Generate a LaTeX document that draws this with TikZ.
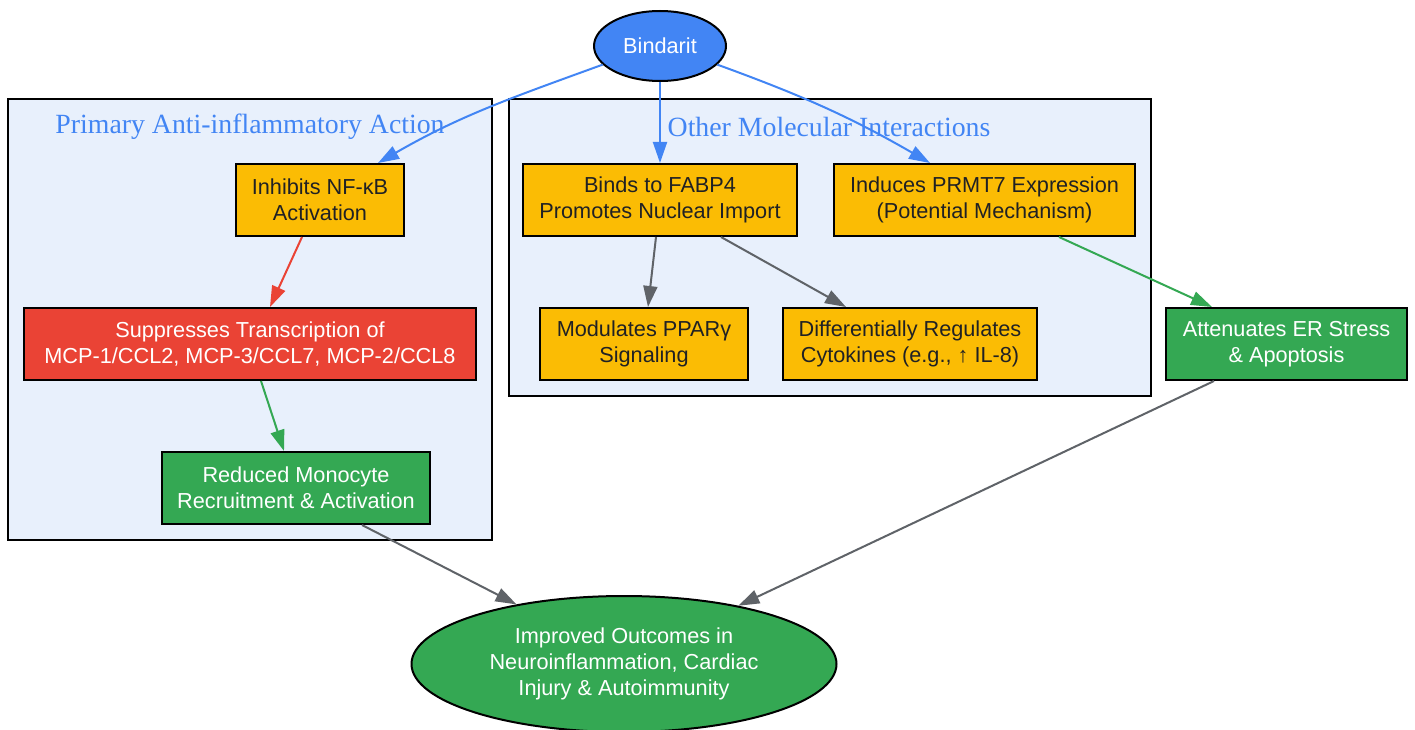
\documentclass[tikz,border=0pt]{standalone}
\usepackage{fontspec}
\setmainfont{Liberation Sans}
\newfontfamily\clusterfont{Liberation Serif}
\usetikzlibrary{arrows.meta,shapes.geometric}
\definecolor{gblue}{HTML}{4285F4}
\definecolor{gred}{HTML}{EA4335}
\definecolor{ggreen}{HTML}{34A853}
\definecolor{gyellow}{HTML}{FBBC04}
\definecolor{ggray}{HTML}{5F6368}
\definecolor{gdark}{HTML}{202124}
\definecolor{clusterbg}{HTML}{E8F0FC}
\begin{document}
\begin{tikzpicture}[x=1pt,y=-1pt,
		box/.style={draw=black,line width=2pt,rectangle,minimum height=72pt,inner sep=0pt,align=center,font=\fontsize{21.7}{26}\selectfont},
		yellowbox/.style={box,fill=gyellow,text=gdark},
		redbox/.style={box,fill=gred,text=white},
		greenbox/.style={box,fill=ggreen,text=white},
		cluster/.style={draw=black,line width=2pt,fill=clusterbg},
		clusterlabel/.style={text=gblue,font=\clusterfont\fontsize{27.8}{32}\selectfont},
		edge/.style={line width=2pt,-{Triangle[length=21pt,width=14pt]}}]
			\useasboundingbox (0,0) rectangle (1415,730);
			% clusters
			\draw[cluster] (8,99) rectangle (492,540);
			\draw[cluster] (509,99) rectangle (1151,396);
			\node[clusterlabel] (primlabel) at (250,127) {Primary Anti-inflammatory Action};
			\node[clusterlabel] (otherlabel) at (829,127) {Other Molecular Interactions};
			% nodes
			\node[ellipse,draw=black,line width=2pt,fill=gblue,text=white,minimum width=132pt,minimum height=70pt,inner sep=0pt,font=\fontsize{21.7}{26}\selectfont] (bind) at (660,46) {Bindarit};
			\node[yellowbox,minimum width=168pt] (nfkb) at (320,200) {Inhibits NF-κB\\Activation};
			\node[redbox,minimum width=452pt] (supp) at (250,344) {Suppresses Transcription of\\MCP-1/CCL2, MCP-3/CCL7, MCP-2/CCL8};
			\node[greenbox,minimum width=268pt] (mono) at (296,488) {Reduced Monocyte\\Recruitment \& Activation};
			\node[yellowbox,minimum width=274pt] (fabp) at (660,200) {Binds to FABP4\\Promotes Nuclear Import};
			\node[yellowbox,minimum width=301pt] (prmt) at (984.5,200) {Induces PRMT7 Expression\\(Potential Mechanism)};
			\node[yellowbox,minimum width=208pt] (ppar) at (644,344) {Modulates PPARγ\\Signaling};
			\node[yellowbox,minimum width=254pt] (cyto) at (910,344) {Differentially Regulates\\Cytokines (e.g., ↑ IL-8)};
			\node[greenbox,minimum width=241pt] (erst) at (1286.5,344) {Attenuates ER Stress\\\& Apoptosis};
			\node[ellipse,draw=black,line width=2pt,fill=ggreen,text=white,minimum width=425pt,minimum height=136pt,inner sep=0pt,align=center,font=\fontsize{21.7}{26}\selectfont] (outc) at (624,664) {Improved Outcomes in\\Neuroinflammation, Cardiac\\Injury \& Autoimmunity};
			% edges
			\draw[edge,gblue] (bind.198) to[out=200,in=30] ([xshift=58pt]nfkb.north);
			\draw[edge,gblue] (bind) -- (fabp);
			\draw[edge,gblue] (bind.-18) to[out=-20,in=150] ([xshift=-54.5pt]prmt.north);
			\draw[edge,gred] ([xshift=-18pt]nfkb.south) -- ([xshift=20pt]supp.north);
			\draw[edge,ggreen] ([xshift=11pt]supp.south) -- ([xshift=-12pt]mono.north);
			\draw[edge,ggray] ([xshift=-4pt]fabp.south) -- ([xshift=4pt]ppar.north);
			\draw[edge,ggray] ([xshift=61pt]fabp.south) -- ([xshift=-64pt]cyto.north);
			\draw[edge,ggreen] ([xshift=74.5pt]prmt.south) -- ([xshift=-74.5pt]erst.north);
			\draw[edge,ggray] ([xshift=66pt]mono.south) -- (outc.151);
			\draw[edge,ggray] ([xshift=-72.5pt]erst.south) -- (outc.27);
		\end{tikzpicture}
\end{document}
